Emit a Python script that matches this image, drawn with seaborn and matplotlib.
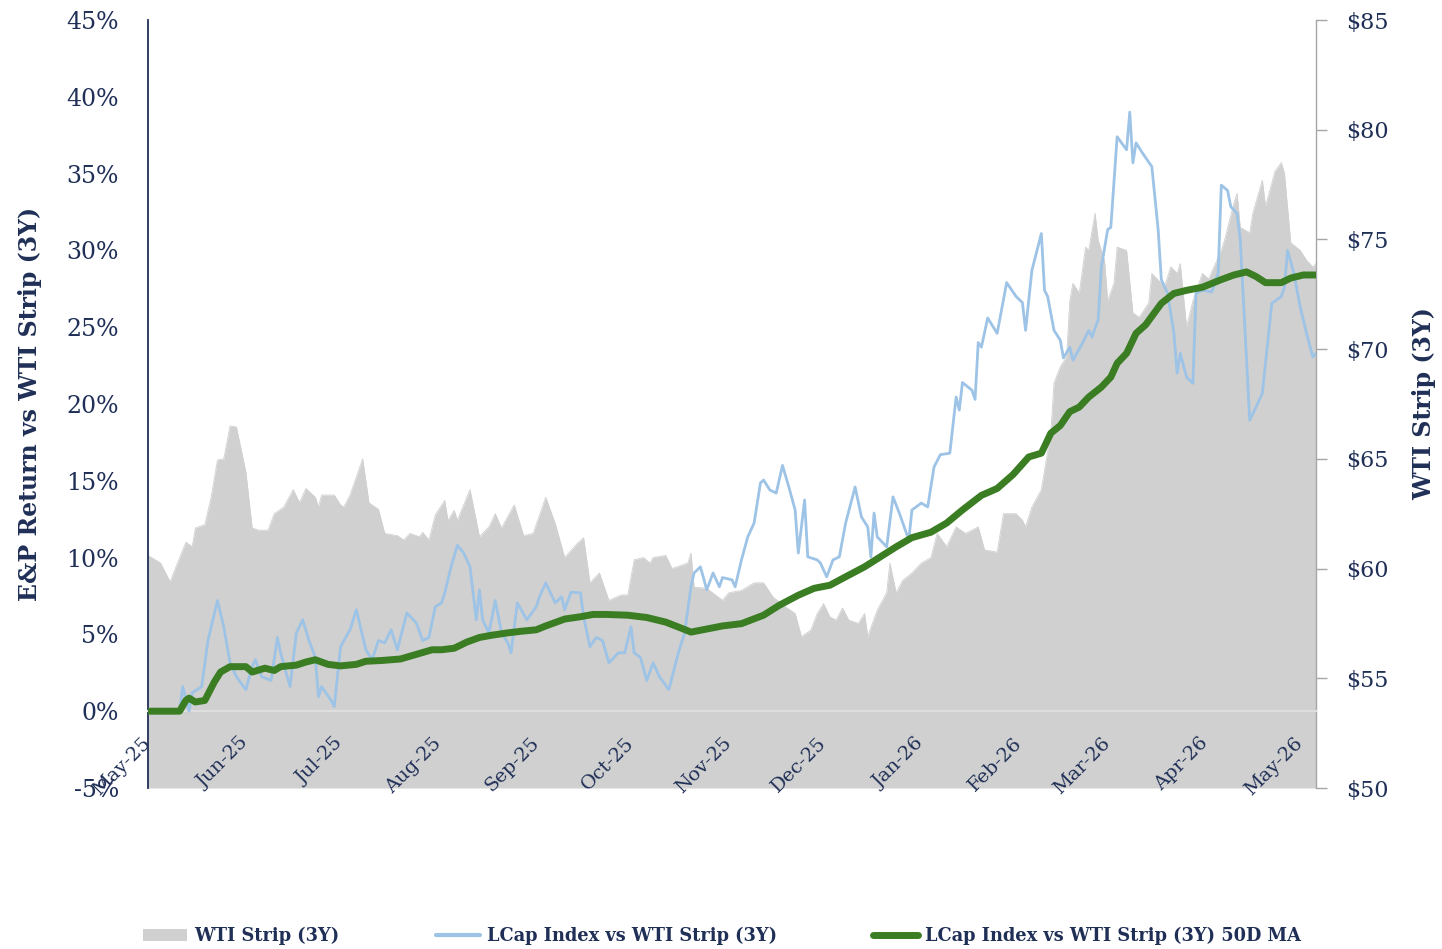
import numpy as np
import pandas as pd
import matplotlib
matplotlib.use("Agg")
import matplotlib.pyplot as plt
from matplotlib.patches import Patch
from matplotlib.lines import Line2D
import seaborn as sns

# ---------------- data (days since 2025-05-01) ----------------
START = pd.Timestamp("2025-05-01")
END = pd.Timestamp("2026-05-06")

wti_day = [0, 4, 7, 12, 14, 15, 18, 20, 22, 24, 26, 28, 31, 33, 35, 38, 40, 43, 46, 48,
           50, 53, 54, 55, 59, 61, 62, 64, 68, 70, 73, 75, 79, 81, 83, 86, 87, 89, 91, 94,
           95, 97, 98, 102, 105, 108, 110, 112, 116, 119, 122, 126, 129, 132, 136, 138, 140, 143, 146, 150,
           152, 154, 157, 159, 160, 164, 166, 171, 172, 173, 177, 182, 184, 188, 192, 195, 198, 202, 205, 207,
           210, 212, 214, 216, 218, 220, 222, 225, 227, 228, 231, 234, 235, 237, 239, 242, 245, 248, 250, 253,
           256, 259, 263, 265, 269, 271, 275, 277, 278, 280, 283, 286, 287, 289, 291, 292, 293, 295, 297, 298,
           300, 301, 303, 304, 306, 307, 310, 312, 314, 317, 318, 322, 324, 326, 327, 329, 331, 334, 336, 340,
           341, 344, 345, 346, 349, 350, 353, 354, 357, 359, 360, 362, 365, 367, 369, 370]
wti_val = [60.6, 60.25, 59.4, 61.2, 61.0, 61.85, 62.0, 63.25, 64.95, 65.0, 66.5, 66.45, 64.4, 61.85, 61.75, 61.75, 62.5, 62.8, 63.6, 63.0,
           63.65, 63.25, 62.8, 63.35, 63.35, 62.9, 62.8, 63.35, 65.0, 63.0, 62.7, 61.6, 61.5, 61.3, 61.6, 61.45, 61.65, 61.3, 62.45, 63.1,
           62.2, 62.65, 62.2, 63.6, 61.45, 61.9, 62.5, 61.85, 62.9, 61.5, 61.6, 63.25, 62.05, 60.5, 61.15, 61.4, 59.35, 59.8, 58.55, 58.8,
           58.8, 60.4, 60.5, 60.25, 60.5, 60.6, 60.0, 60.25, 60.7, 59.15, 59.1, 58.55, 58.9, 59.0, 59.35, 59.35, 58.7, 58.25, 57.95, 56.9,
           57.2, 57.95, 58.4, 57.8, 57.65, 58.2, 57.65, 57.5, 57.95, 56.9, 58.1, 58.9, 60.25, 58.9, 59.45, 59.8, 60.25, 60.5, 61.6, 61.0,
           61.9, 61.6, 61.9, 60.85, 60.75, 62.5, 62.5, 62.2, 61.9, 62.8, 63.6, 66.2, 68.45, 69.2, 69.65, 72.2, 73.0, 72.55, 74.65, 74.5,
           76.2, 74.95, 74.05, 72.2, 73.0, 74.65, 74.5, 71.65, 71.45, 72.1, 73.45, 72.85, 73.75, 73.45, 73.9, 71.0, 72.2, 73.45, 73.2, 74.5,
           74.95, 76.65, 77.1, 75.55, 75.3, 76.2, 77.7, 76.5, 78.1, 78.5, 78.0, 74.85, 74.5, 74.05, 73.75, 73.9]

lcap_day = [0, 10, 11, 13, 14, 17, 19, 22, 24, 26, 28, 31, 33, 34, 36, 39, 41, 42, 45, 47,
            49, 51, 53, 54, 55, 58, 59, 61, 64, 66, 69, 71, 73, 75, 77, 79, 82, 85, 87, 89,
            91, 93, 94, 96, 98, 100, 102, 104, 105, 106, 108, 110, 112, 114, 115, 117, 120, 123, 124, 126,
            129, 131, 132, 134, 137, 138, 140, 142, 144, 146, 149, 151, 153, 154, 156, 158, 160, 162, 165, 168,
            170, 172, 173, 175, 177, 179, 181, 182, 185, 186, 188, 190, 192, 194, 195, 197, 199, 201, 203, 205,
            206, 208, 209, 212, 213, 215, 217, 219, 221, 224, 226, 228, 229, 230, 231, 234, 236, 238, 241, 242,
            245, 247, 249, 251, 254, 256, 257, 258, 261, 262, 263, 264, 266, 269, 272, 275, 277, 278, 280, 283,
            284, 285, 287, 289, 290, 292, 293, 296, 298, 299, 301, 302, 304, 305, 307, 310, 311, 312, 313, 315,
            318, 320, 321, 323, 325, 326, 327, 329, 331, 332, 334, 337, 339, 340, 342, 343, 345, 346, 349, 351,
            353, 356, 359, 360, 361, 363, 365, 367, 369, 370]
lcap_val = [0.0, 0.0, 1.6, 0.0, 1.2, 1.6, 4.6, 7.2, 5.5, 3.15, 2.25, 1.4, 2.9, 3.35, 2.25, 2.0, 4.8, 3.8, 1.6, 5.1,
            5.95, 4.6, 3.5, 0.95, 1.6, 0.7, 0.3, 4.2, 5.3, 6.6, 4.0, 3.35, 4.6, 4.45, 5.3, 4.0, 6.4, 5.75, 4.6, 4.8,
            6.8, 7.05, 7.7, 9.4, 10.8, 10.3, 9.4, 5.95, 7.9, 5.95, 5.1, 7.2, 5.1, 4.45, 3.8, 7.05, 5.95, 6.8, 7.45, 8.35,
            7.05, 7.45, 6.6, 7.75, 7.7, 6.15, 4.2, 4.8, 4.6, 3.15, 3.8, 3.8, 5.5, 3.8, 3.5, 2.0, 3.15, 2.25, 1.4, 3.8,
            5.1, 8.1, 9.0, 9.4, 7.9, 9.0, 8.1, 8.7, 8.55, 8.1, 9.85, 11.35, 12.25, 14.85, 15.05, 14.4, 14.2, 16.0, 14.6, 13.1,
            10.3, 13.75, 10.05, 9.85, 9.65, 8.75, 9.85, 10.05, 12.25, 14.6, 12.65, 12.0, 10.05, 12.9, 11.35, 10.7, 13.95, 12.9, 11.15, 13.1,
            13.55, 13.3, 15.9, 16.7, 16.8, 20.45, 19.6, 21.4, 20.9, 20.3, 24.0, 23.7, 25.6, 24.6, 27.9, 27.0, 26.6, 24.8, 28.7, 31.1,
            27.4, 27.0, 24.8, 24.15, 23.0, 23.7, 22.85, 23.95, 24.8, 24.35, 25.5, 28.9, 31.35, 31.5, 37.4, 36.55, 39.0, 35.7, 37.0, 36.35,
            35.45, 31.35, 28.1, 27.2, 24.6, 22.0, 23.3, 21.75, 21.35, 27.2, 27.4, 27.3, 28.5, 34.25, 33.9, 32.85, 32.4, 30.7, 18.95, 19.8,
            20.7, 26.55, 27.0, 27.6, 30.0, 28.5, 26.3, 24.6, 23.05, 23.3]

ma_day = [0, 10, 12, 13, 15, 18, 21, 23, 26, 31, 33, 37, 40, 42, 47, 50, 53, 57, 61, 66,
          69, 74, 80, 85, 90, 93, 97, 101, 105, 109, 114, 118, 123, 126, 132, 137, 141, 145, 152, 158,
          164, 169, 172, 177, 182, 188, 195, 200, 206, 211, 216, 221, 227, 232, 237, 242, 248, 253, 258, 264,
          269, 274, 279, 283, 286, 289, 292, 295, 298, 302, 305, 307, 310, 313, 316, 321, 325, 329, 334, 340,
          344, 348, 351, 354, 359, 362, 366, 370]
ma_val = [0.0, 0.0, 0.7, 0.85, 0.6, 0.7, 1.9, 2.55, 2.9, 2.9, 2.55, 2.8, 2.65, 2.9, 3.0, 3.2, 3.35, 3.05, 2.95, 3.05,
          3.25, 3.3, 3.4, 3.7, 4.0, 4.0, 4.1, 4.5, 4.8, 4.95, 5.1, 5.2, 5.3, 5.55, 6.0, 6.15, 6.3, 6.3, 6.25, 6.1,
          5.8, 5.4, 5.15, 5.35, 5.55, 5.7, 6.25, 6.9, 7.55, 8.0, 8.2, 8.75, 9.4, 10.05, 10.7, 11.3, 11.65, 12.25, 13.1, 14.05,
          14.5, 15.4, 16.55, 16.8, 18.1, 18.6, 19.5, 19.8, 20.45, 21.1, 21.75, 22.65, 23.3, 24.6, 25.15, 26.55, 27.2, 27.4, 27.6, 28.1,
          28.4, 28.6, 28.3, 27.9, 27.9, 28.2, 28.4, 28.4]

left_ticks = [-5, 0, 5, 10, 15, 20, 25, 30, 35, 40, 45]
right_ticks = [50, 55, 60, 65, 70, 75, 80, 85]
series_names = ["WTI Strip (3Y)", "LCap Index vs WTI Strip (3Y)", "LCap Index vs WTI Strip (3Y) 50D MA"]

# ---------------- styling ----------------
sns.set_theme(style="white")
plt.rcParams["font.family"] = ["DejaVu Serif", "DejaVu Sans"]

NAVY = "#1f2f56"
GREY = "#d0d0d0"
BLUE = "#9dc3e6"
GREEN = "#3b7d23"

wti = pd.DataFrame({"date": START + pd.to_timedelta(wti_day, unit="D"), "val": wti_val})
lcap = pd.DataFrame({"date": START + pd.to_timedelta(lcap_day, unit="D"), "val": lcap_val})
ma = pd.DataFrame({"date": START + pd.to_timedelta(ma_day, unit="D"), "val": ma_val})

fig = plt.figure(figsize=(14.42, 9.49), dpi=100)
fig.patch.set_facecolor("white")
ax = fig.add_axes([148 / 1442, 1 - 788 / 949, 1168 / 1442, 768 / 949])
ax2 = ax.twinx()
ax.set_zorder(ax2.get_zorder() + 1)
ax.patch.set_visible(False)

# grey area on right axis
ax2.fill_between(wti["date"], wti["val"], 50, color=GREY, lw=0)
sns.lineplot(data=wti, x="date", y="val", ax=ax2, color=GREY, lw=0.6, estimator=None)
ax2.set_ylim(50, 85)

# lines on left axis
ax.axhline(0, color="#dedede", lw=1.5, zorder=1)
sns.lineplot(data=lcap, x="date", y="val", ax=ax, color=BLUE, lw=2.0, estimator=None, zorder=3)
sns.lineplot(data=ma, x="date", y="val", ax=ax, color=GREEN, lw=5, estimator=None, zorder=4,
             solid_capstyle="butt")
ax.set_ylim(-5, 45)
ax.set_xlim(START, END)

# x ticks
xt = pd.date_range("2025-05-01", "2026-05-01", freq="MS")
ax.set_xticks(xt)
ax.set_xticklabels([d.strftime("%b-%y") for d in xt], rotation=45, ha="right", va="center",
                   rotation_mode="anchor")
ax.spines["bottom"].set_position(("data", 0))
ax.spines["bottom"].set_color("#dedede")
ax.spines["bottom"].set_linewidth(1.5)
ax.tick_params(axis="x", length=0, pad=21, labelsize=14, labelcolor=NAVY, labelrotation=45)
plt.setp(ax.get_xticklabels(), ha="right", va="center", rotation_mode="anchor")

# left y
ax.set_yticks(left_ticks)
ax.set_yticklabels([f"{v}%" for v in left_ticks])
ax.tick_params(axis="y", length=0, pad=21, labelsize=17, labelcolor=NAVY)
ax.spines["left"].set_color(NAVY)
ax.spines["left"].set_linewidth(1.3)
for s in ["top", "right"]:
    ax.spines[s].set_visible(False)
ax.set_xlabel("")
ax.set_ylabel("E&P Return vs WTI Strip (3Y)", fontsize=17, fontweight="bold", color=NAVY)
ax.yaxis.set_label_coords(-0.0908, 0.5)

# right y
ax2.set_yticks(right_ticks)
ax2.set_yticklabels([f"\\${v}" for v in right_ticks])
ax2.tick_params(axis="y", length=8, width=1, color="#a6a6a6", pad=14, labelsize=16, labelcolor=NAVY)
for s in ["top", "left", "bottom"]:
    ax2.spines[s].set_visible(False)
ax2.spines["right"].set_color("#a6a6a6")
ax2.spines["right"].set_linewidth(1)
ax2.set_xlabel("")
ax2.set_ylabel("WTI Strip (3Y)", fontsize=17, fontweight="bold", color=NAVY, rotation=90)
ax2.yaxis.set_label_coords(1.0822, 0.5)

# legend
handles = [Patch(facecolor=GREY, edgecolor="none"),
           Line2D([0], [0], color=BLUE, lw=3),
           Line2D([0], [0], color=GREEN, lw=5)]
leg = fig.legend(handles, series_names, loc="center", bbox_to_anchor=(722 / 1442, 1 - 936 / 949),
                 ncol=3, frameon=False, prop={"family": "DejaVu Serif", "weight": "bold", "size": 12.8},
                 handlelength=2.5, handletextpad=0.4, columnspacing=5.4)
for t in leg.get_texts():
    t.set_color(NAVY)

fig.savefig("out.png", dpi=100, facecolor="white")
